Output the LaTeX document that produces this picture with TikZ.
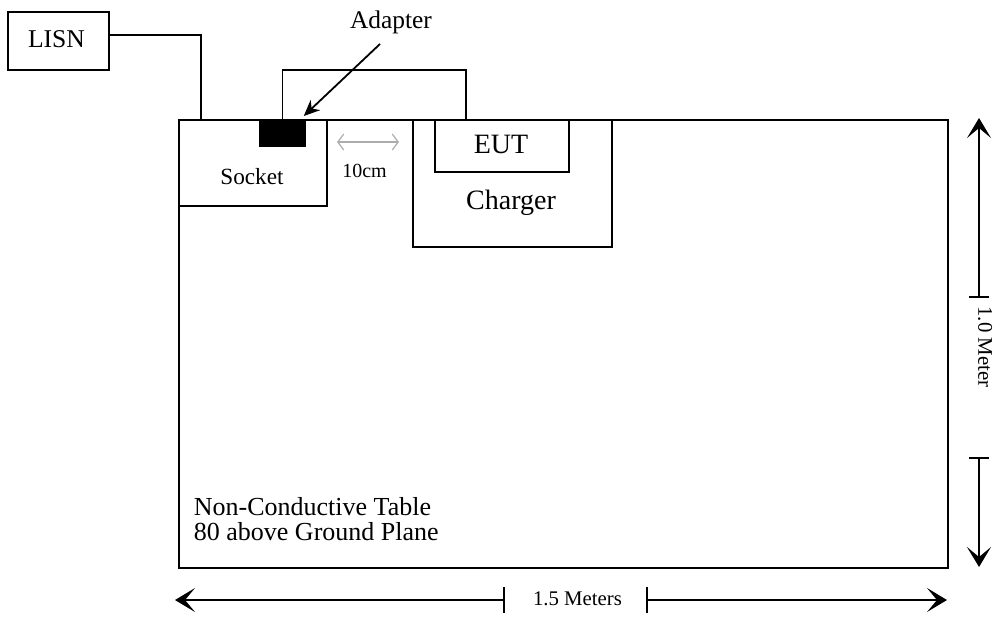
\documentclass[tikz,border=0pt]{standalone}
\usepackage{fontspec}
\setmainfont{Liberation Serif}
\usetikzlibrary{arrows.meta,calc,positioning}
\newcommand{\fsz}[1]{\fontsize{#1}{12.5}\selectfont}

\begin{document}
\begin{tikzpicture}[x=0.5pt,y=-0.5pt,line width=0.9pt,
    box/.style={draw,inner sep=0pt,anchor=north west},
    dimline/.style={line width=0.8pt,-{Stealth[length=10pt,width=12pt,inset=5pt]}}]
  \useasboundingbox (0,0) rectangle (999,618);
  % table and the things on it
  \node[box,minimum width=384.5pt,minimum height=224pt] (table) at (178,119) {};
  \node[box,minimum width=74pt,minimum height=43pt] (socket) at (178,119) {};
  \node[box,minimum width=99.5pt,minimum height=63.5pt] (charger) at (412,119) {};
  \node[box,minimum width=67pt,minimum height=26pt] (eut) at (434,119) {};
  \node[box,fill=black,minimum width=22.5pt,minimum height=13pt] (adapter) at (259,119) {};
  \node[draw,inner sep=0pt,minimum width=50.5pt,minimum height=29pt] (lisn) at (58.5,41) {};
  \node[anchor=base,font=\fsz{12.8}] (lisntxt) at (56.5,47) {LISN};
  \node[anchor=base,font=\fsz{11.6}] (sockettxt) at (252,184) {Socket};
  \node[anchor=base,font=\fsz{14}] (euttxt) at (501,153) {EUT};
  \node[anchor=base,font=\fsz{14}] (chargertxt) at (511,209) {Charger};
  \node[anchor=base,font=\fsz{12.7}] (adaptertxt) at (391,28) {Adapter};
  \node[anchor=base west,font=\fsz{13},align=left,inner sep=0pt] (tabletxt) at (193,540)
      {Non-Conductive Table\\80 above Ground Plane};
  % wires
  \coordinate (lisnin) at (201,119);
  \coordinate (eutin) at (466,119);
  \draw ($(lisn.east)+(0,-6)$) -| (lisnin);
  \draw (adapter.north) -- ++(0,-49) -| (eutin);
  \draw[-{Stealth[length=8pt,width=7pt]}] ($(adaptertxt.south)+(-11,3)$) -- ($(adapter.north east)+(-2,-3)$);
  % 10 cm gap
  \coordinate (gapl) at (337,142);
  \coordinate (gapr) at (399,142);
  \draw[gray!65,line width=0.6pt,{Straight Barb[length=3pt,width=8pt]}-{Straight Barb[length=3pt,width=8pt]}] (gapl) -- (gapr);
  \node[anchor=base,font=\fsz{10}] (gaptxt) at (364.5,177) {10cm};
  % 1.0 meter
  \coordinate (vtop) at (979,118);
  \coordinate (vbot) at (979,567);
  \coordinate (vt1) at (979,297);
  \coordinate (vt2) at (979,458);
  \draw[dimline] (vt1) -- (vtop);
  \draw[dimline] (vt2) -- (vbot);
  \draw[line width=0.8pt] ($(vt1)+(-10,0)$) -- ++(20,0) ($(vt2)+(-10,0)$) -- ++(20,0);
  \node[rotate=-90,font=\fsz{10.4}] (vtxt) at (985,347) {1.0 Meter};
  % 1.5 meters
  \coordinate (hl) at (175,600);
  \coordinate (hr) at (947,600);
  \coordinate (ht1) at (504,600);
  \coordinate (ht2) at (647,600);
  \draw[dimline] (ht1) -- (hl);
  \draw[dimline] (ht2) -- (hr);
  \draw[line width=0.8pt] ($(ht1)+(0,-13)$) -- ++(0,26) ($(ht2)+(0,-13)$) -- ++(0,26);
  \node[anchor=base,font=\fsz{10.4}] (htxt) at (577.5,605) {1.5 Meters};
\end{tikzpicture}
\end{document}
